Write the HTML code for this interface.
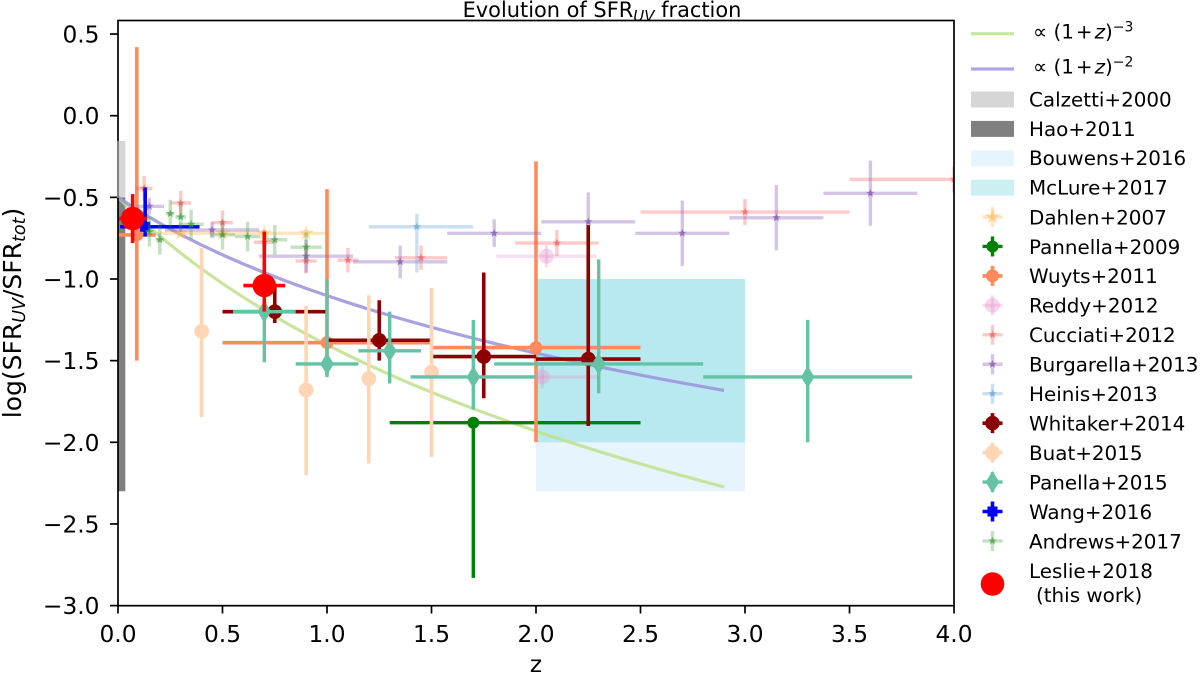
<!DOCTYPE html>
<html lang="en">
<head>
<meta charset="utf-8">
<title>Evolution of SFR UV fraction</title>
<style>
html,body{margin:0;padding:0;background:#fff;}
svg{display:block;font-family:"DejaVu Sans","Liberation Sans",sans-serif;}
</style>
</head>
<body>
<svg id="chart" xmlns="http://www.w3.org/2000/svg" width="1200" height="677" viewBox="0 0 1200 677">
  <defs><clipPath id="plot-clip"><rect x="118" y="20.5" width="836" height="585.5"/></clipPath></defs>
  <text x="602" y="17" font-size="20.9" text-anchor="middle">Evolution of SFR<tspan dy="4" font-size="15" font-style="italic">UV</tspan><tspan dy="-4"> fraction</tspan></text>
  <text x="536" y="672" font-size="23.3" text-anchor="middle">z</text>
  <text transform="translate(21,313) rotate(-90)" font-size="25" text-anchor="middle">log(SFR<tspan dy="4" font-size="17.5" font-style="italic">UV</tspan><tspan dy="-4">/SFR</tspan><tspan dy="4" font-size="17.5" font-style="italic">tot</tspan><tspan dy="-4">)</tspan></text>
  <g id="ticks"></g>
  <g id="plot" clip-path="url(#plot-clip)"></g>
  <g id="spines" fill="none" stroke="#000" stroke-width="1.7">
    <rect x="118" y="20.5" width="836" height="585.2"/>
    <line x1="118" x2="118" y1="141" y2="198" stroke="#8c8c8c"/>
  </g>
  <g id="legend"></g>
</svg>
<script>
var NS = 'http://www.w3.org/2000/svg';

// Axis tick labels
var xTicks = [0, 0.5, 1, 1.5, 2, 2.5, 3, 3.5, 4];
var xTickLabels = ['0.0', '0.5', '1.0', '1.5', '2.0', '2.5', '3.0', '3.5', '4.0'];
var yTicks = [0.5, 0, -0.5, -1, -1.5, -2, -2.5, -3];
var yTickLabels = ['0.5', '0.0', '\u22120.5', '\u22121.0', '\u22121.5', '\u22122.0', '\u22122.5', '\u22123.0'];

// Model curves
var curveZ = [0,.1,.2,.3,.4,.5,.6,.7,.8,.9,1,1.1,1.2,1.3,1.4,1.5,1.6,1.7,1.8,1.9,2,2.1,2.2,2.3,2.4,2.5,2.6,2.7,2.8,2.9];
var curveCubic = [-.5,-.6242,-.7376,-.8417,-.9383,-1.0283,-1.1123,-1.1912,-1.2659,-1.3364,-1.403,-1.4666,-1.5272,-1.5851,-1.6406,-1.6937,-1.745,-1.7942,-1.8416,-1.8872,-1.9313,-1.9742,-2.0153,-2.0555,-2.0945,-2.1323,-2.1689,-2.2046,-2.2394,-2.2733];
var curveSquare = [-.5,-.5828,-.6584,-.7278,-.7922,-.8522,-.9082,-.9608,-1.0106,-1.0576,-1.102,-1.1444,-1.1848,-1.2234,-1.2604,-1.2958,-1.33,-1.3628,-1.3944,-1.4248,-1.4542,-1.4828,-1.5102,-1.537,-1.563,-1.5882,-1.6126,-1.6364,-1.6596,-1.6822];

// Shaded ranges: z from, z to, value top, value bottom
var calzettiBand = [0, 0.035, -0.155, -0.5];
var haoBand = [0, 0.035, -0.5, -2.3];
var bouwensBand = [2, 3, -1.0, -2.3];
var mclureBand = [2, 3, -1.0, -2.0];

// Measurements: z, value, z error below, z error above, value error below, value error above
var dahlenZ = [.3,.5,.7,.9];
var dahlenV = [-.72,-.72,-.72,-.72];
var dahlenXLo = [.1,.1,.1,.1];
var dahlenXHi = [.1,.1,.1,.1];
var dahlenYLo = [.02,.02,.02,.02];
var dahlenYHi = [.02,.02,.02,.02];

var pannella09Z = [1.7];
var pannella09V = [-1.88];
var pannella09XLo = [.4];
var pannella09XHi = [.8];
var pannella09YLo = [.95];
var pannella09YHi = [0];

var wuytsZ = [.09,1,2];
var wuytsV = [-.73,-1.39,-1.42];
var wuytsXLo = [.09,.5,.5];
var wuytsXHi = [.09,.5,.5];
var wuytsYLo = [.77,.2,.58];
var wuytsYHi = [1.15,.94,1.14];

var reddyZ = [2.05,2.03];
var reddyV = [-.86,-1.6];
var reddyXLo = [.24,.27];
var reddyXHi = [.24,.27];
var reddyYLo = [.07,.07];
var reddyYHi = [.07,.07];

var cucciatiZ = [.125,.3,.5,.7,.9,1.1,1.45,2.1,3,4];
var cucciatiV = [-.445,-.535,-.655,-.775,-.89,-.885,-.87,-.78,-.59,-.39];
var cucciatiXLo = [.04,.05,.05,.05,.05,.05,.125,.2,.5,.5];
var cucciatiXHi = [.04,.05,.05,.05,.05,.05,.125,.2,.5,.5];
var cucciatiYLo = [.075,.075,.075,.075,.075,.075,.075,.08,.08,.08];
var cucciatiYHi = [.075,.075,.075,.075,.075,.075,.075,.08,.08,.08];

var burgarellaZ = [.15,.45,.9,1.35,1.8,2.25,2.7,3.15,3.6];
var burgarellaV = [-.555,-.7,-.86,-.895,-.72,-.65,-.72,-.625,-.475];
var burgarellaXLo = [.06,.225,.225,.225,.225,.225,.225,.225,.225];
var burgarellaXHi = [.07,.225,.225,.225,.225,.225,.225,.225,.225];
var burgarellaYLo = [.05,.05,.1,.1,.085,.2,.2,.2,.2];
var burgarellaYHi = [.05,.05,.1,.1,.085,.18,.2,.2,.2];

var heinisZ = [1.43];
var heinisV = [-.68];
var heinisXLo = [.23];
var heinisXHi = [.27];
var heinisYLo = [.28];
var heinisYHi = [.08];

var whitakerZ = [.75,1.25,1.75,2.25];
var whitakerV = [-1.2,-1.375,-1.475,-1.49];
var whitakerXLo = [.25,.25,.25,.25];
var whitakerXHi = [.25,.25,.25,.25];
var whitakerYLo = [.07,.125,.255,.41];
var whitakerYHi = [.15,.245,.515,.82];

var buatZ = [.4,.9,1.2,1.5];
var buatV = [-1.32,-1.68,-1.61,-1.57];
var buatXLo = [0,0,0,0];
var buatXHi = [0,0,0,0];
var buatYLo = [.525,.52,.52,.52];
var buatYHi = [.51,.515,.51,.515];

var panella15Z = [.7,1,1.3,1.7,2.3,3.3];
var panella15V = [-1.2,-1.52,-1.44,-1.6,-1.52,-1.6];
var panella15XLo = [.15,.15,.15,.3,.5,.5];
var panella15XHi = [.15,.15,.15,.3,.5,.5];
var panella15YLo = [.31,.08,.2,.2,.18,.4];
var panella15YHi = [.3,.52,.24,.35,.64,.35];

var wangZ = [.13];
var wangV = [-.68];
var wangXLo = [.12];
var wangXHi = [.26];
var wangYLo = [.06];
var wangYHi = [.24];

var andrewsZ = [.15,.2,.25,.3,.35,.5,.62,.75,.9];
var andrewsV = [-.71,-.76,-.6,-.62,-.665,-.73,-.74,-.76,-.805];
var andrewsXLo = [.02,.02,.02,.025,.06,.06,.06,.06,.075];
var andrewsXHi = [.02,.02,.02,.025,.06,.06,.06,.06,.075];
var andrewsYLo = [.09,.09,.085,.09,.09,.09,.09,.09,.09];
var andrewsYHi = [.09,.09,.085,.09,.09,.09,.09,.09,.09];

var leslieZ = [.07,.7];
var leslieV = [-.63,-1.04];
var leslieXLo = [.07,.1];
var leslieXHi = [.07,.1];
var leslieYLo = [.15,.16];
var leslieYHi = [.15,.33];

var seriesLabels = ['Dahlen+2007','Pannella+2009','Wuyts+2011','Reddy+2012','Cucciati+2012','Burgarella+2013','Heinis+2013','Whitaker+2014','Buat+2015','Panella+2015','Wang+2016','Andrews+2017','Leslie+2018'];

function xScale(z) { return 118 + 209 * z; }
function yScale(v) { return 115.7 - 163.3 * v; }

function make(tag, attrs, parent) {
  var el = document.createElementNS(NS, tag);
  for (var k in attrs) el.setAttribute(k, attrs[k]);
  parent.appendChild(el);
  return el;
}

var plot = document.getElementById('plot');
var ticks = document.getElementById('ticks');
var legend = document.getElementById('legend');

xTicks.forEach(function (t, i) {
  var x = xScale(t);
  var tick = make('line', {x1: x, x2: x, y1: 605.6, y2: 613.5, stroke: '#000', 'stroke-width': 1.7}, ticks);
  
  
  var label = make('text', {x: x, y: 642, 'font-size': 23.3, 'text-anchor': 'middle'}, ticks);
  label.textContent = xTickLabels[i];
  
  
});
yTicks.forEach(function (t, i) {
  var y = yScale(t);
  var tick = make('line', {x1: 110, x2: 118, y1: y, y2: y, stroke: '#000', 'stroke-width': 1.7}, ticks);
  
  
  var label = make('text', {x: 99.5, y: y + 8.5, 'font-size': 23.3, 'text-anchor': 'end'}, ticks);
  label.textContent = yTickLabels[i];
  
  
});

function drawBand(band, color, name) {
  var r = make('rect', {
    x: xScale(band[0]), y: yScale(band[2]),
    width: xScale(band[1]) - xScale(band[0]),
    height: yScale(band[3]) - yScale(band[2]),
    fill: color
  }, plot);
  
  
}
drawBand(bouwensBand, '#e5f4fd', 'bouwens-2016-band');
drawBand(mclureBand, '#b9e9f0', 'mclure-2017-band');
drawBand(calzettiBand, '#d6d6d6', 'calzetti-2000-band');
drawBand(haoBand, '#808080', 'hao-2011-band');

function drawCurve(values, color, name) {
  var pts = curveZ.map(function (z, i) { return xScale(z).toFixed(2) + ',' + yScale(values[i]).toFixed(2); }).join(' ');
  var c = make('polyline', {points: pts, fill: 'none', stroke: color, 'stroke-width': 3.2, 'stroke-linejoin': 'round', opacity: 0.85}, plot);
  
  
}
drawCurve(curveCubic, '#bfe08c', 'curve-power-minus-3');
drawCurve(curveSquare, '#9a92dc', 'curve-power-minus-2');

function starPoints(cx, cy, r) {
  var p = [];
  for (var i = 0; i < 10; i++) {
    var rad = i % 2 ? r * 0.4 : r;
    var a = -Math.PI / 2 + i * Math.PI / 5;
    p.push((cx + rad * Math.cos(a)).toFixed(1) + ',' + (cy + rad * Math.sin(a)).toFixed(1));
  }
  return p.join(' ');
}

function drawMarker(parent, shape, cx, cy, size, color, alpha) {
  var m;
  if (shape === 'star') {
    m = make('polygon', {points: starPoints(cx, cy, size), fill: color, opacity: alpha}, parent);
  } else if (shape === 'diamond') {
    m = make('polygon', {points: cx + ',' + (cy - size) + ' ' + (cx + size * 0.62) + ',' + cy + ' ' + cx + ',' + (cy + size) + ' ' + (cx - size * 0.62) + ',' + cy, fill: color, opacity: alpha}, parent);
  } else if (shape === 'square') {
    m = make('rect', {x: cx - size, y: cy - size, width: size * 2, height: size * 2, fill: color, opacity: alpha}, parent);
  } else {
    m = make('circle', {cx: cx, cy: cy, r: size, fill: color, opacity: alpha}, parent);
  }
  return m;
}

function drawSeries(name, zs, vs, xLo, xHi, yLo, yHi, color, lineAlpha, markerAlpha, shape, size, width) {
  var g = make('g', {}, plot);
  
  
  zs.forEach(function (z, i) {
    var cx = xScale(z), cy = yScale(vs[i]);
    if (xLo[i] + xHi[i] > 0) {
      var h = make('line', {x1: xScale(z - xLo[i]), x2: xScale(z + xHi[i]), y1: cy, y2: cy, stroke: color, 'stroke-width': width, opacity: lineAlpha}, g);
      
      
    }
    if (yLo[i] + yHi[i] > 0) {
      var v = make('line', {x1: cx, x2: cx, y1: yScale(vs[i] + yHi[i]), y2: yScale(vs[i] - yLo[i]), stroke: color, 'stroke-width': width, opacity: lineAlpha}, g);
      
      
    }
    var m = drawMarker(g, shape, cx, cy, size, color, markerAlpha);
    
    
  });
}

drawSeries('dahlen-2007', dahlenZ, dahlenV, dahlenXLo, dahlenXHi, dahlenYLo, dahlenYHi, '#fdb84d', .35, .45, 'star', 8, 3.4);
drawSeries('pannella-2009', pannella09Z, pannella09V, pannella09XLo, pannella09XHi, pannella09YLo, pannella09YHi, '#008000', 1, 1, 'circle', 6, 3.4);
drawSeries('wuyts-2011', wuytsZ, wuytsV, wuytsXLo, wuytsXHi, wuytsYLo, wuytsYHi, '#ff8a5c', 1, 1, 'circle', 6.5, 3.6);
drawSeries('reddy-2012', reddyZ, reddyV, reddyXLo, reddyXHi, reddyYLo, reddyYHi, '#e58ccb', .28, .35, 'circle', 7.5, 3.4);
drawSeries('cucciati-2012', cucciatiZ, cucciatiV, cucciatiXLo, cucciatiXHi, cucciatiYLo, cucciatiYHi, '#ff5050', .3, .6, 'star', 4.5, 3.4);
drawSeries('burgarella-2013', burgarellaZ, burgarellaV, burgarellaXLo, burgarellaXHi, burgarellaYLo, burgarellaYHi, '#8a5cb5', .35, .75, 'star', 4.5, 3.4);
drawSeries('heinis-2013', heinisZ, heinisV, heinisXLo, heinisXHi, heinisYLo, heinisYHi, '#6aa8d4', .35, .7, 'star', 4.5, 3.4);
drawSeries('whitaker-2014', whitakerZ, whitakerV, whitakerXLo, whitakerXHi, whitakerYLo, whitakerYHi, '#8b0000', 1, 1, 'circle', 7.3, 3.6);
drawSeries('buat-2015', buatZ, buatV, buatXLo, buatXHi, buatYLo, buatYHi, '#fed6b6', 1, 1, 'circle', 7.4, 3.6);
drawSeries('panella-2015', panella15Z, panella15V, panella15XLo, panella15XHi, panella15YLo, panella15YHi, '#66c2a5', 1, 1, 'diamond', 11, 3.4);
drawSeries('wang-2016', wangZ, wangV, wangXLo, wangXHi, wangYLo, wangYHi, '#0000ff', 1, 1, 'square', 5, 3.6);
drawSeries('andrews-2017', andrewsZ, andrewsV, andrewsXLo, andrewsXHi, andrewsYLo, andrewsYHi, '#3d9b3d', .3, .65, 'star', 4.5, 3.4);
drawSeries('leslie-2018', leslieZ, leslieV, leslieXLo, leslieXHi, leslieYLo, leslieYHi, '#ff0000', 1, 1, 'circle', 11.7, 3.6);

// Legend
function legendText(y, txt, name) {
  var t = make('text', {x: 1029, y: y, 'font-size': 19.9}, legend);
  t.textContent = txt;
  
  
  return t;
}
function legendMath(lineY, textY, color, exponent, name) {
  var l = make('line', {x1: 971, x2: 1014, y1: lineY, y2: lineY, stroke: color, 'stroke-width': 3.2}, legend);
  
  
  var t = make('text', {x: 1033, y: textY, 'font-size': 19.9}, legend);
  
  
  var a = make('tspan', {}, t); a.textContent = '\u221d (1\u200a+\u200a';
  var b = make('tspan', {'font-style': 'italic'}, t); b.textContent = 'z';
  var c = make('tspan', {}, t); c.textContent = ')';
  var d = make('tspan', {dy: -7, 'font-size': 14}, t); d.textContent = exponent;
}
legendMath(33.7, 38.3, '#c9e6a0', '\u22123', 'legend-power-minus-3');
legendMath(69, 73.3, '#ada7e6', '\u22122', 'legend-power-minus-2');

var patchLabels = ['Calzetti+2000', 'Hao+2011', 'Bouwens+2016', 'McLure+2017'];
var patchColors = ['#d6d6d6', '#808080', '#e5f4fd', '#ccf0f2'];
patchLabels.forEach(function (lab, i) {
  var top = 91.5 + i * 29.4;
  var r = make('rect', {x: 971, y: top, width: 43, height: 16, fill: patchColors[i]}, legend);
  
  
  legendText(106.3 + i * 29.45, lab, 'legend-label');
});

var legendStyles = [
  ['#fdb84d', .35, .45, 'star', 8, 3.4],
  ['#008000', 1, 1, 'circle', 6, 3.4],
  ['#ff8a5c', 1, 1, 'circle', 6.5, 3.6],
  ['#e58ccb', .28, .35, 'circle', 7.5, 3.4],
  ['#ff5050', .3, .6, 'star', 4.5, 3.4],
  ['#8a5cb5', .35, .75, 'star', 4.5, 3.4],
  ['#6aa8d4', .35, .7, 'star', 4.5, 3.4],
  ['#8b0000', 1, 1, 'circle', 7.3, 3.6],
  ['#fed6b6', 1, 1, 'circle', 7.4, 3.6],
  ['#66c2a5', 1, 1, 'diamond', 11, 3.4],
  ['#0000ff', 1, 1, 'square', 5, 3.6],
  ['#3d9b3d', .3, .65, 'star', 4.5, 3.4]
];

legendStyles.forEach(function (s, i) {
  var cy = 217 + i * 29.45;
  var cx = 992.5;
  var g = make('g', {}, legend);
  
  
  make('line', {x1: cx - 10, x2: cx + 10, y1: cy, y2: cy, stroke: s[0], 'stroke-width': s[5], opacity: s[1]}, g);
  make('line', {x1: cx, x2: cx, y1: cy - 10, y2: cy + 10, stroke: s[0], 'stroke-width': s[5], opacity: s[1]}, g);
  drawMarker(g, s[3], cx, cy, s[4], s[0], s[2]);
  legendText(cy + 7.3, seriesLabels[i], 'legend-label');
});

var leslieSwatch = make('circle', {cx: 992.5, cy: 584, r: 11.8, fill: '#ff0000'}, legend);


legendText(578, seriesLabels[12], 'legend-label');
var thisWork = make('text', {x: 1036, y: 602, 'font-size': 19.9}, legend);
thisWork.textContent = '(this work)';


</script>
</body>
</html>
